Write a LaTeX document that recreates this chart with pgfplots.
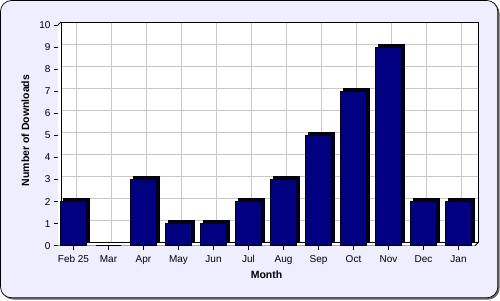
\documentclass[border=0pt]{standalone}
\usepackage{pgfplots}
\pgfplotsset{compat=1.18}
\usepackage{fontspec}
\setmainfont{Liberation Sans}
\definecolor{bgc}{RGB}{238,238,255}
\definecolor{barc}{RGB}{0,0,128}
\definecolor{sidec}{RGB}{0,0,40}
\definecolor{gridc}{RGB}{200,200,200}
\begin{document}
\begin{tikzpicture}
\useasboundingbox (0,0) rectangle (500pt,300pt);
\fill[black!60, rounded corners=11pt] (2pt,0.5pt) rectangle (499.5pt,298pt);
\filldraw[fill=bgc, draw=black, line width=0.7pt, rounded corners=11pt] (0.5pt,2.2pt) rectangle (497.8pt,299.5pt);
% back wall
\begin{axis}[
  at={(61pt,57.3pt)}, anchor=south west,
  scale only axis, width=417pt, height=220.7pt,
  xmin=-0.443, xmax=11.471, ymin=0, ymax=10,
  xtick={0,...,11}, ytick={0,...,10},
  xticklabels={}, yticklabels={},
  major tick length=0pt,
  grid=major, major grid style={gridc, line width=0.9pt},
  axis background/.style={fill=white},
  axis line style={black, line width=0.8pt},
]
\end{axis}
% front
\begin{axis}[
  at={(58pt,54.3pt)}, anchor=south west,
  scale only axis, width=417pt, height=220.7pt,
  xmin=-0.443, xmax=11.471, ymin=0, ymax=10,
  clip=false,
  axis x line*=bottom, axis y line*=left,
  axis line style={black, line width=0.8pt, -},
  xtick=data, ytick={0,...,10},
  xticklabels={Feb 25,Mar,Apr,May,Jun,Jul,Aug,Sep,Oct,Nov,Dec,Jan},
  tick align=outside, major tick length=4pt,
  tick style={black, line width=0.8pt},
  /pgf/number format/assume math mode=true,
  ticklabel style={font=\fontsize{10}{12}\selectfont},
  xticklabel style={yshift=-2pt},
  label style={font=\bfseries\fontsize{10.5}{12}\selectfont},
  xlabel={Month}, ylabel={Number of Downloads},
  xlabel style={yshift=0pt},
  ylabel style={at={(axis description cs:-0.078,0.5215)}, anchor=center},
]
\fill[white] (rel axis cs:0,0) -- (rel axis cs:1,0) -- ([shift={(3pt,3pt)}]rel axis cs:1,0) -- ([shift={(3pt,3pt)}]rel axis cs:0,0) -- cycle;
\fill[white] (rel axis cs:0,0) -- (rel axis cs:0,1) -- ([shift={(3pt,3pt)}]rel axis cs:0,1) -- ([shift={(3pt,3pt)}]rel axis cs:0,0) -- cycle;
\draw[black, line width=0.8pt] (rel axis cs:1,0) -- ([shift={(3pt,3pt)}]rel axis cs:1,0);
\draw[black, line width=0.8pt] (rel axis cs:0,1) -- ([shift={(3pt,3pt)}]rel axis cs:0,1);
\draw[black, line width=0.6pt] ([shift={(3pt,3pt)}]rel axis cs:0,0) -- ([shift={(3pt,3pt)}]rel axis cs:1,0);
\addplot[ybar, bar width=25.5pt, bar shift=3pt, yshift=3pt, fill=sidec, draw=black, line width=0.6pt]
  coordinates {(0,2) (1,0) (2,3) (3,1) (4,1) (5,2) (6,3) (7,5) (8,7) (9,9) (10,2) (11,2)};
\addplot[ybar, bar width=25.5pt, bar shift=0pt, fill=barc, draw=black, line width=0.6pt]
  coordinates {(0,2) (1,0) (2,3) (3,1) (4,1) (5,2) (6,3) (7,5) (8,7) (9,9) (10,2) (11,2)};
\end{axis}
\end{tikzpicture}
\end{document}
